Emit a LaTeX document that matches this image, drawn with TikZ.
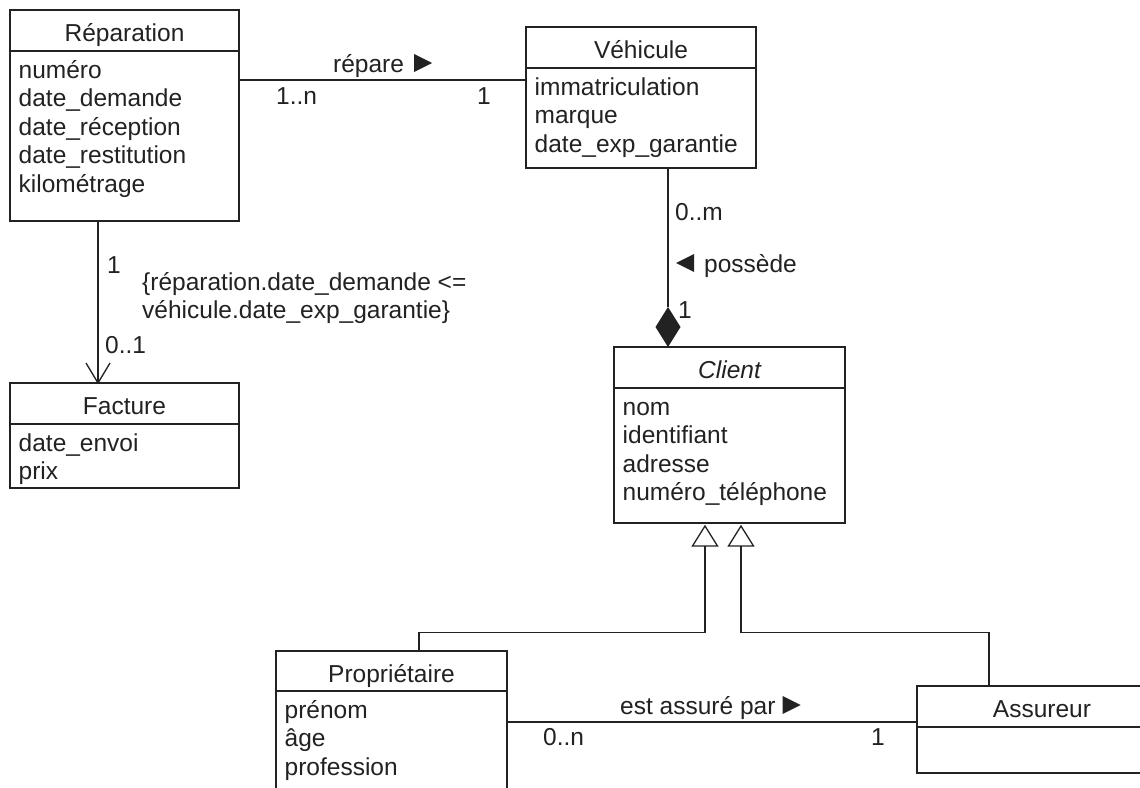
\documentclass[tikz,border=0pt]{standalone}
\usepackage{fontspec}
\setmainfont{Liberation Sans}
\usetikzlibrary{calc}
\definecolor{ink}{HTML}{222222}
\tikzset{
  box/.style={draw=ink, line width=1.3pt, inner sep=0pt, outer sep=0pt, anchor=north west},
  titletext/.style={anchor=base, inner sep=0pt, text=ink},
  attr/.style={anchor=base west, inner sep=0pt, text=ink},
  lbl/.style={anchor=base west, inner sep=0pt, text=ink},
  link/.style={draw=ink, line width=1.3pt},
  tri/.style={fill=ink},
}
% class: name, x, y (top left), width, header height, body height, title
\newcommand\umlclass[7]{%
  \node[box, minimum width=#4, minimum height=#5] (#1) at (#2,#3) {};
  \node[box, minimum width=#4, minimum height=#6] (#1-b) at (#1.south west) {};
  \node[titletext] (#1-t) at ($(#1.north)+(0,31)$) {#7};
}
% attribute lines of a class body
\newcommand\umlattrs[2]{%
  \foreach \a [count=\i] in {#2} {
    \node[attr] (#1-a\i) at ($(#1-b.north west)+(8.5,{27+28.6*(\i-1)})$) {\a};
  }
}
\begin{document}
\begin{tikzpicture}[x=1pt, y=-1pt, font=\fontsize{24.5}{28.6}\selectfont]
\useasboundingbox (0,0) rectangle (1140,787);
\clip (0,0) rectangle (1140,787);
\fill[white] (0,0) rectangle (1140,787);

% classes
\umlclass{rep}{10}{10}{229}{41}{170}{Réparation}
\umlattrs{rep}{numéro,date\_demande,date\_réception,date\_restitution,kilométrage}
\umlclass{veh}{526}{27}{230}{41}{100}{Véhicule}
\umlattrs{veh}{immatriculation,marque,date\_exp\_garantie}
\umlclass{fac}{10}{383}{229}{41}{64}{Facture}
\umlattrs{fac}{date\_envoi,prix}
\umlclass{cli}{614}{347}{231}{41}{135}{\itshape Client}
\umlattrs{cli}{nom,identifiant,adresse,numéro\_téléphone}
\umlclass{pro}{276}{651}{231}{40}{150}{Propriétaire}
\umlattrs{pro}{prénom,âge,profession}
\umlclass{asr}{917}{686}{250}{41}{46}{Assureur}

% Réparation -- Véhicule
\draw[link] (rep-b.east |- 0,80) -- (veh-b.west |- 0,80);
\node[lbl] (l-rep) at (333,72) {répare};
\fill[tri] ($(l-rep.base east)+(10,0)$) -- ++(0,-18) -- ++(18,9) -- cycle;
\node[lbl] (m-rep1) at (276,104) {1..n};
\node[lbl] (m-rep2) at (477,104) {1};

% Réparation -> Facture (navigable)
\coordinate (fx) at (98,0 |- fac.north);
\draw[link] (98,0 |- rep-b.south) -- (fx);
\draw[link, line join=miter] (fx) ++(-12,-20) -- (fx) -- ++(12,-20);
\node[lbl] (m-fac1) at (107,273) {1};
\node[lbl] (m-fac2) at (105,353) {0..1};
\node[lbl] (c1) at (142,290) {\{réparation.date\_demande <=};
\node[lbl] (c2) at (142,318) {véhicule.date\_exp\_garantie\}};

% Véhicule -- Client (composition)
\coordinate (ctip) at (668,0 |- cli.north);
\draw[link] (668,0 |- veh-b.south) -- ($(ctip)+(0,-40)$);
\fill[ink] (ctip) -- ++(12.5,-20) -- ++(-12.5,-20) -- ++(-12.5,20) -- cycle;
\node[lbl] (m-veh) at (675,220) {0..m};
\node[lbl] (l-pos) at (704,272) {possède};
\fill[tri] ($(l-pos.base west)+(-10,0)$) -- ++(0,-18) -- ++(-18,9) -- cycle;
\node[lbl] (m-cli) at (678,318) {1};

% generalisations
\coordinate (g1) at ($(705,0 |- cli-b.south)+(0,3)$);
\coordinate (g2) at ($(741,0 |- cli-b.south)+(0,3)$);
\draw[link, line join=miter] (g1) -- ++(12.5,20) -- ++(-25,0) -- cycle;
\draw[link, line join=miter] (g2) -- ++(12.5,20) -- ++(-25,0) -- cycle;
\draw[link] ($(g1)+(0,20)$) |- (419,632.5) -- (419,0 |- pro.north);
\draw[link] ($(g2)+(0,20)$) |- (989,632.5) -- (989,0 |- asr.north);

% Propriétaire -- Assureur
\draw[link] (pro-b.east |- 0,722) -- (asr.west |- 0,722);
\node[lbl] (l-ass) at (620,714) {est assuré par};
\fill[tri] ($(l-ass.base east)+(7,0)$) -- ++(0,-18) -- ++(18,9) -- cycle;
\node[lbl] (m-pro) at (543,745) {0..n};
\node[lbl] (m-asr) at (871,745) {1};
\end{tikzpicture}
\end{document}
